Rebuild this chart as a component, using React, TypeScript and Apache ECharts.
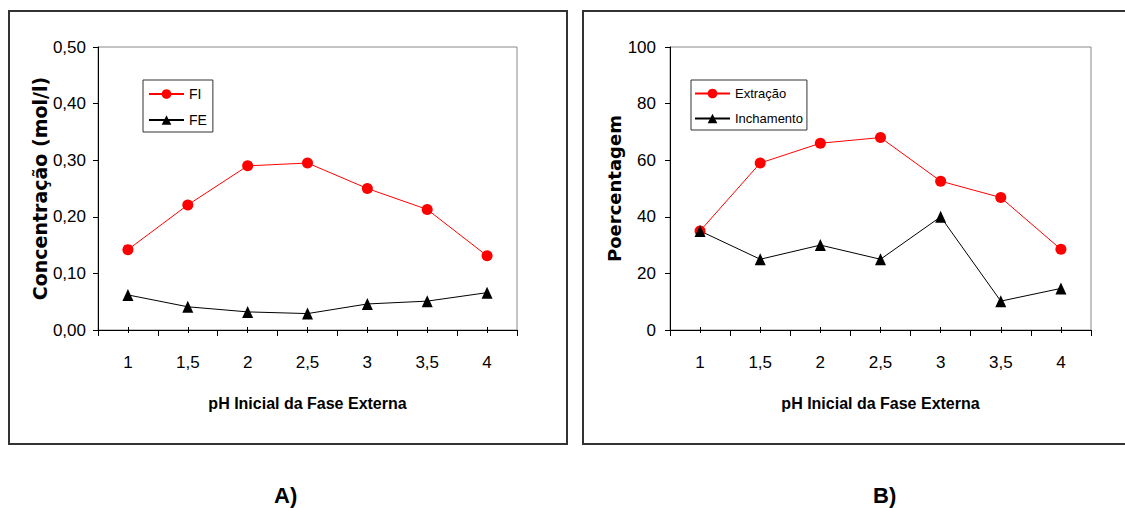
import React, { useEffect, useRef } from "react";
import * as echarts from "echarts";

const categories = ["1", "1,5", "2", "2,5", "3", "3,5", "4"];
const fiValues = [0.142, 0.221, 0.29, 0.295, 0.25, 0.213, 0.131];
const feValues = [0.062, 0.041, 0.032, 0.029, 0.046, 0.051, 0.066];
const extracaoValues = [35, 59, 66, 68, 52.6, 46.8, 28.5];
const inchamentoValues = [35, 25, 30, 25, 40, 10.2, 14.7];

const leftNames = ["FI", "FE"];
const rightNames = ["Extração", "Inchamento"];
const xTitle = "pH Inicial da Fase Externa";
const leftYTitle = "Concentração (mol/l)";
const rightYTitle = "Poercentagem";
const panelLabels = ["A)", "B)"];

const SANS = "'Liberation Sans', Arial, sans-serif";
const WIDE_BOLD = "'DejaVu Sans', Verdana, sans-serif";

function mainX(gridIndex: number) {
  return {
    type: "category",
    gridIndex,
    position: "bottom",
    data: categories,
    boundaryGap: true,
    axisLine: { show: true, lineStyle: { color: "#000", width: 1 } },
    axisTick: { show: true, interval: 0, length: 6, alignWithLabel: false, lineStyle: { color: "#000" } },
    axisLabel: { show: true, interval: 0, margin: 24, color: "#000", fontSize: 17, fontFamily: SANS },
    splitLine: { show: false },
    name: xTitle,
    nameLocation: "middle",
    nameGap: 65,
    nameTextStyle: { color: "#000", fontSize: 16, fontWeight: "bold", fontFamily: SANS },
  };
}

function tickX(gridIndex: number, inside: boolean) {
  return {
    type: "category",
    gridIndex,
    position: "bottom",
    data: categories,
    boundaryGap: true,
    axisLine: { show: false },
    axisTick: { show: true, interval: 0, length: 3, inside, alignWithLabel: true, lineStyle: { color: "#000" } },
    axisLabel: { show: false },
    splitLine: { show: false },
  };
}

export default function App() {
  const ref = useRef<HTMLDivElement>(null);
  useEffect(() => {
    if (!ref.current) return;
    const chart = echarts.init(ref.current, null, { renderer: "svg" });
    const option: any = {
      animation: false,
      backgroundColor: "#fff",
      grid: [
        { left: 98, top: 47, width: 419, height: 283, show: true, borderColor: "#888", borderWidth: 1, backgroundColor: "transparent" },
        { left: 670, top: 47, width: 421, height: 283, show: true, borderColor: "#888", borderWidth: 1, backgroundColor: "transparent" },
      ],
      xAxis: [mainX(0), mainX(1), tickX(0, true), tickX(0, false), tickX(1, true), tickX(1, false)],
      yAxis: [
        {
          type: "value",
          gridIndex: 0,
          min: 0,
          max: 0.5,
          interval: 0.1,
          axisLine: { show: true, lineStyle: { color: "#000", width: 1 } },
          axisTick: { show: true, length: 5, lineStyle: { color: "#000" } },
          axisLabel: {
            margin: 12,
            color: "#000",
            fontSize: 17,
            fontFamily: SANS,
            formatter: (v: number) => v.toFixed(2).replace(".", ","),
          },
          splitLine: { show: false },
          name: leftYTitle,
          nameLocation: "middle",
          nameGap: 47,
          nameTextStyle: { color: "#000", fontSize: 19, fontWeight: "bold", fontFamily: WIDE_BOLD },
        },
        {
          type: "value",
          gridIndex: 1,
          min: 0,
          max: 100,
          interval: 20,
          axisLine: { show: true, lineStyle: { color: "#000", width: 1 } },
          axisTick: { show: true, length: 5, lineStyle: { color: "#000" } },
          axisLabel: { margin: 14, color: "#000", fontSize: 17, fontFamily: SANS },
          splitLine: { show: false },
          name: rightYTitle,
          nameLocation: "middle",
          nameGap: 47,
          nameTextStyle: { color: "#000", fontSize: 18, fontWeight: "bold", fontFamily: WIDE_BOLD },
        },
      ],
      legend: [
        {
          data: leftNames,
          orient: "vertical",
          left: 143,
          top: 80,
          itemWidth: 35,
          itemHeight: 12,
          itemGap: 12,
          padding: [7, 6, 5, 5],
          borderColor: "#333",
          borderWidth: 1,
          textStyle: { color: "#000", fontSize: 14, fontFamily: SANS },
        },
        {
          data: rightNames,
          orient: "vertical",
          left: 691,
          top: 80,
          itemWidth: 35,
          itemHeight: 12,
          itemGap: 12,
          padding: [7, 4, 5, 3],
          borderColor: "#333",
          borderWidth: 1,
          textStyle: { color: "#000", fontSize: 13, fontFamily: SANS },
        },
      ],
      series: [
        {
          name: leftNames[0],
          type: "line",
          xAxisIndex: 0,
          yAxisIndex: 0,
          data: fiValues,
          symbol: "circle",
          symbolSize: 11,
          itemStyle: { color: "#ff0000" },
          lineStyle: { color: "#ff0000", width: 1 },
        },
        {
          name: leftNames[1],
          type: "line",
          xAxisIndex: 0,
          yAxisIndex: 0,
          data: feValues,
          symbol: "triangle",
          symbolSize: [11, 12],
          itemStyle: { color: "#000" },
          lineStyle: { color: "#000", width: 1 },
        },
        {
          name: rightNames[0],
          type: "line",
          xAxisIndex: 1,
          yAxisIndex: 1,
          data: extracaoValues,
          symbol: "circle",
          symbolSize: 11,
          itemStyle: { color: "#ff0000" },
          lineStyle: { color: "#ff0000", width: 1 },
        },
        {
          name: rightNames[1],
          type: "line",
          xAxisIndex: 1,
          yAxisIndex: 1,
          data: inchamentoValues,
          symbol: "triangle",
          symbolSize: [11, 12],
          itemStyle: { color: "#000" },
          lineStyle: { color: "#000", width: 1 },
        },
      ],
      graphic: [
        { type: "rect", shape: { x: 9, y: 11, width: 558, height: 433 }, style: { fill: "none", stroke: "#333", lineWidth: 2 }, silent: true },
        { type: "rect", shape: { x: 583, y: 11, width: 560, height: 433 }, style: { fill: "none", stroke: "#333", lineWidth: 2 }, silent: true },
        {
          type: "text",
          left: 274,
          top: 484,
          style: { text: panelLabels[0], fill: "#000", fontSize: 22, fontWeight: "bold", fontFamily: SANS },
        },
        {
          type: "text",
          left: 873,
          top: 484,
          style: { text: panelLabels[1], fill: "#000", fontSize: 22, fontWeight: "bold", fontFamily: SANS },
        },
      ],
    };
    chart.setOption(option);
    return () => chart.dispose();
  }, []);
  return <div ref={ref} style={{ position: "fixed", left: 0, top: 0, width: 1125, height: 508 }} />;
}
